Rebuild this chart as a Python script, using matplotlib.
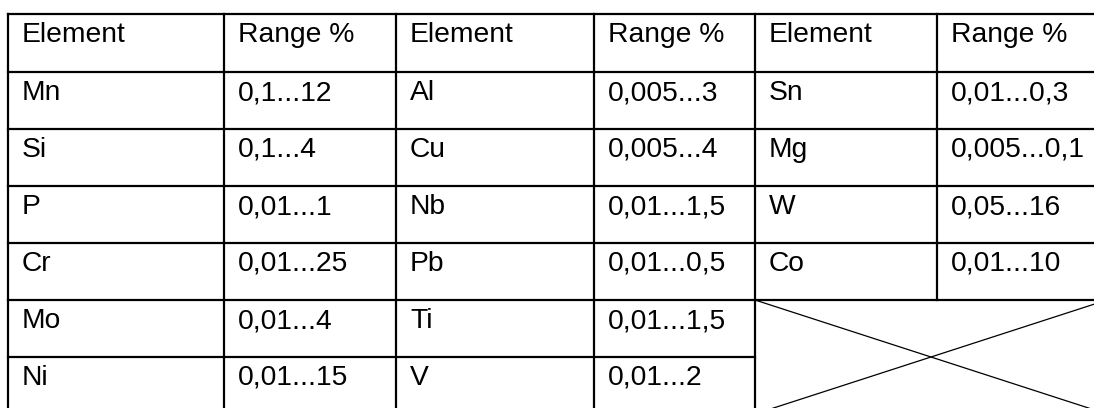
import matplotlib.pyplot as plt

plt.rcParams['font.family'] = ['Liberation Sans', 'DejaVu Sans']

headers = ["Element", "Range %", "Element", "Range %", "Element", "Range %"]
elem1 = ["Mn", "Si", "P", "Cr", "Mo", "Ni"]
range1 = ["0,1...12", "0,1...4", "0,01...1", "0,01...25", "0,01...4", "0,01...15"]
elem2 = ["Al", "Cu", "Nb", "Pb", "Ti", "V"]
range2 = ["0,005...3", "0,005...4", "0,01...1,5", "0,01...0,5", "0,01...1,5", "0,01...2"]
elem3 = ["Sn", "Mg", "W", "Co"]
range3 = ["0,01...0,3", "0,005...0,1", "0,05...16", "0,01...10"]

# table geometry in pixels
col_x = [8, 224, 396, 594, 755, 937, 1107]
row_y = [14, 72, 129, 186, 243, 300, 357, 414]

fig = plt.figure(figsize=(10.94, 4.08), dpi=100)
ax = fig.add_axes([0, 0, 1, 1])
ax.set_xlim(0, 1094)
ax.set_ylim(408, 0)
ax.axis('off')

lw = 1.6
# horizontal lines
for i, y in enumerate(row_y):
    right = col_x[4] if i == 6 else col_x[6]
    ax.plot([col_x[0], right], [y, y], color='black', lw=lw)
# vertical lines
for j, x in enumerate(col_x):
    bottom = row_y[5] if j == 5 else row_y[-1]
    ax.plot([x, x], [row_y[0], bottom], color='black', lw=lw)

# crossed empty cell
x0, x1 = col_x[4], col_x[6]
y0, y1 = row_y[5], row_y[7]
ax.plot([x0, x1], [y0, y1], color='black', lw=0.9)
ax.plot([x0, x1], [y1, y0], color='black', lw=0.9)

cols = [elem1, range1, elem2, range2, elem3, range3]
fs = 20.3
for j, h in enumerate(headers):
    ax.text(col_x[j] + 14, row_y[0] + 28, h, fontsize=fs, va='baseline', ha='left')
for j, col in enumerate(cols):
    for i, val in enumerate(col):
        ax.text(col_x[j] + 14, row_y[i + 1] + 28, val, fontsize=fs,
                va='baseline', ha='left')

fig.savefig('out.png', dpi=100)
